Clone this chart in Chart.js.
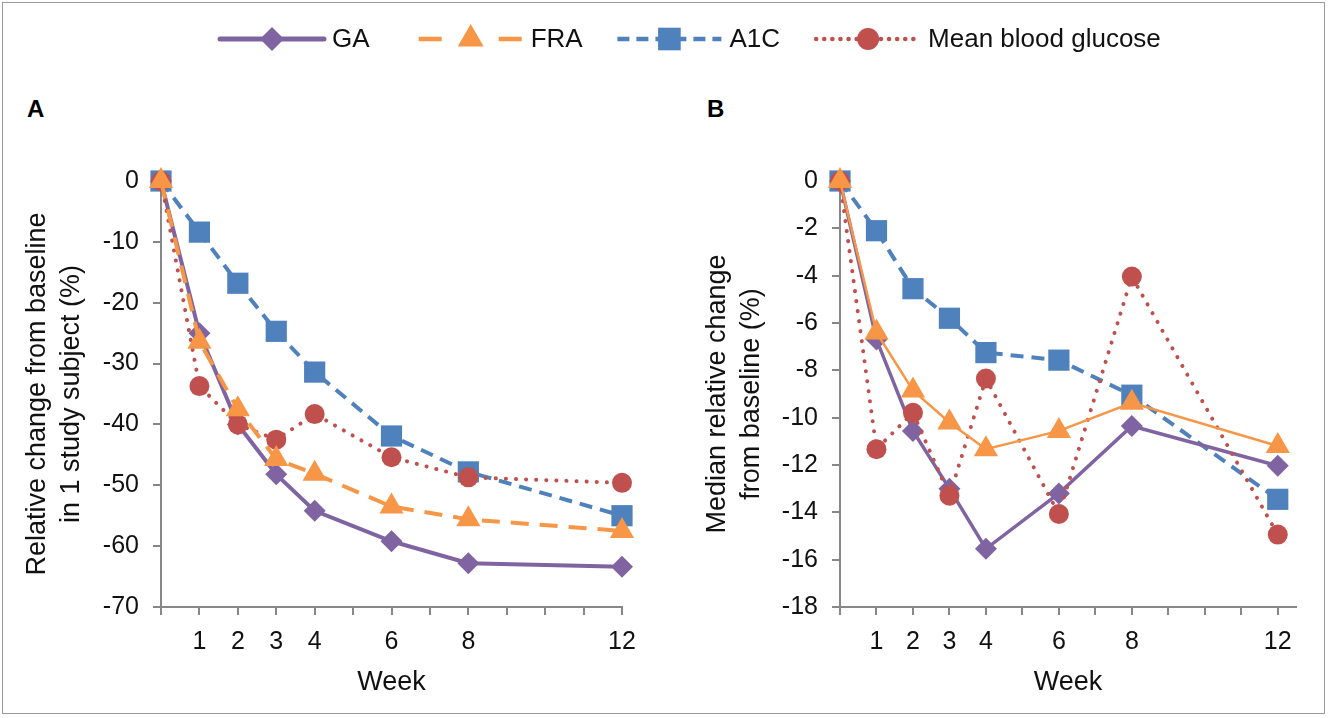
<!DOCTYPE html>
<html>
<head>
<meta charset="utf-8">
<script src="https://cdn.jsdelivr.net/npm/chart.js@4.4.1/dist/chart.umd.min.js"></script>
<style>
    body { margin: 0; background: #fff; width: 1330px; height: 718px; position: relative; overflow: hidden;
           font-family: "Liberation Sans", Arial, sans-serif; }
    .frame { position: absolute; left: 2px; top: 2px; width: 1323px; height: 712px;
             border: 1.5px solid #9a9a9a; box-sizing: border-box; }
    .panel-label { position: absolute; font-weight: bold; font-size: 24px; color: #000; }
    canvas { position: absolute; }
</style>
</head>
<body>
<div class="frame"></div>
<canvas id="legend" width="1330" height="80" style="left:0;top:0"></canvas>
<div class="panel-label" style="left:27px;top:95px">A</div>
<div class="panel-label" style="left:707px;top:95px">B</div>
<canvas id="chartA" width="640" height="572" style="left:10px;top:140px"></canvas>
<canvas id="chartB" width="630" height="572" style="left:690px;top:140px"></canvas>

<script>
// weeks of measurement, and weeks that get a tick label
const weeks = [0, 1, 2, 3, 4, 6, 8, 12];
const labelledWeeks = [1, 2, 3, 4, 6, 8, 12];

// Panel A — one study subject, relative change from baseline (%)
const gaA  = [0, -25.0, -40.0, -48.2, -54.2, -59.2, -62.8, -63.4];
const fraA = [0, -26.4, -37.5, -45.7, -48.1, -53.5, -55.6, -57.5];
const a1cA = [0, -8.4, -16.8, -24.7, -31.4, -41.9, -47.8, -55.0];
const mbgA = [0, -33.7, -40.0, -42.5, -38.3, -45.4, -48.7, -49.6];

// Panel B — median relative change from baseline (%)
const gaB  = [0, -6.7, -10.56, -13.0, -15.54, -13.2, -10.35, -12.03];
const fraB = [0, -6.4, -8.85, -10.2, -11.33, -10.56, -9.37, -11.2];
const a1cB = [0, -2.1, -4.55, -5.8, -7.25, -7.57, -9.05, -13.45];
const mbgB = [0, -11.33, -9.79, -13.3, -8.35, -14.07, -4.04, -14.94];

const AXIS = '#878787';
const FONT = '"Liberation Sans", Arial, sans-serif';

const series = {
    GA:  { color: '#8064A2', pointStyle: 'rectRot',  radius: 11, dash: [],         cap: 'butt',  order: 2 },
    FRA: { color: '#F79646', pointStyle: 'triangle', radius: 14, dash: [18, 11],   cap: 'butt',  order: 0 },
    A1C: { color: '#4F81BD', pointStyle: 'rect',     radius: 15, dash: [13, 8],    cap: 'butt',  order: 3 },
    MBG: { color: '#C0504D', pointStyle: 'circle',   radius: 10, dash: [0.1, 10],  cap: 'round', order: 1 }
};

function dataset(label, key, values, overrides) {
    const s = series[key];
    return Object.assign({
        label,
        data: weeks.map((w, i) => ({ x: w, y: values[i] })),
        borderColor: s.color,
        backgroundColor: s.color,
        borderWidth: 4,
        borderDash: s.dash,
        borderCapStyle: s.cap,
        pointStyle: s.pointStyle,
        pointRadius: s.radius,
        pointBorderWidth: 0,
        pointBackgroundColor: s.color,
        tension: 0,
        clip: false,
        order: s.order
    }, overrides || {});
}

function makeChart(id, datasets, o) {
    return new Chart(document.getElementById(id), {
        type: 'line',
        data: { datasets },
        options: {
            responsive: false,
            animation: false,
            layout: { padding: { top: 41, right: o.padRight, left: 0, bottom: 0 } },
            plugins: { legend: { display: false }, tooltip: { enabled: false } },
            scales: {
                x: {
                    type: 'linear', min: 0, max: o.xMax,
                    afterFit: s => { s.height = 105; },
                    border: { color: AXIS, width: 2 },
                    grid: { drawOnChartArea: false, tickLength: 8, color: AXIS, lineWidth: 2 },
                    ticks: {
                        stepSize: 1, autoSkip: false, maxRotation: 0, includeBounds: false,
                        padding: 12, color: '#111', font: { family: FONT, size: 25 },
                        callback: v => labelledWeeks.includes(v) ? String(v) : ''
                    },
                    title: {
                        display: true, text: 'Week', color: '#111',
                        font: { family: FONT, size: 27 }, padding: { top: 0, bottom: 13 }
                    }
                },
                y: {
                    min: o.yMin, max: 0,
                    afterFit: s => { s.width = o.yWidth; },
                    border: { color: AXIS, width: 2 },
                    grid: { drawOnChartArea: false, tickLength: 8, color: AXIS, lineWidth: 2 },
                    ticks: { stepSize: o.yStep, padding: 14, color: '#111', font: { family: FONT, size: 25 } },
                    title: {
                        display: true, text: o.yTitle, color: '#111',
                        font: { family: FONT, size: 27, lineHeight: 1.25 }, padding: { top: 11 }
                    }
                }
            }
        }
    });
}

makeChart('chartA', [
    dataset('GA', 'GA', gaA),
    dataset('FRA', 'FRA', fraA),
    dataset('A1C', 'A1C', a1cA),
    dataset('Mean blood glucose', 'MBG', mbgA)
], { xMax: 12, padRight: 28, yMin: -70, yStep: 10, yWidth: 151,
     yTitle: ['Relative change from baseline', 'in 1 study subject (%)'] });

// In panel B the FRA line is drawn solid and thinner
makeChart('chartB', [
    dataset('GA', 'GA', gaB, { borderWidth: 3.5 }),
    dataset('FRA', 'FRA', fraB, { borderWidth: 2.5, borderDash: [] }),
    dataset('A1C', 'A1C', a1cB),
    dataset('Mean blood glucose', 'MBG', mbgB)
], { xMax: 12.5, padRight: 24, yMin: -18, yStep: 2, yWidth: 150,
     yTitle: ['Median relative change', 'from baseline (%)'] });

// Shared legend across both panels
(function drawLegend() {
    const ctx = document.getElementById('legend').getContext('2d');
    const items = [['GA', 'GA'], ['FRA', 'FRA'], ['A1C', 'A1C'], ['Mean blood glucose', 'MBG']];
    const dashes = { GA: [], FRA: [23, 57], A1C: [12, 7], MBG: [0.1, 8] };
    const y = 39;
    items.forEach(([text, key], i) => {
        const s = series[key];
        const x0 = 220 + i * 198.7;
        ctx.save();
        ctx.strokeStyle = s.color;
        ctx.lineWidth = key === 'GA' ? 5 : 4.5;
        ctx.lineCap = (key === 'MBG' || key === 'GA') ? 'round' : 'butt';
        ctx.setLineDash(dashes[key]);
        ctx.beginPath();
        ctx.moveTo(x0, y);
        ctx.lineTo(x0 + 104, y);
        ctx.stroke();
        ctx.setLineDash([]);
        ctx.fillStyle = s.color;
        Chart.helpers.drawPoint(ctx, { pointStyle: s.pointStyle, radius: s.radius + 1, borderWidth: 0, rotation: 0 }, x0 + 52, y);
        ctx.restore();
        ctx.fillStyle = '#111';
        ctx.font = '26px ' + FONT;
        ctx.textBaseline = 'middle';
        ctx.fillText(text, x0 + 112, y + 1);
    });
})();
</script>
</body>
</html>
